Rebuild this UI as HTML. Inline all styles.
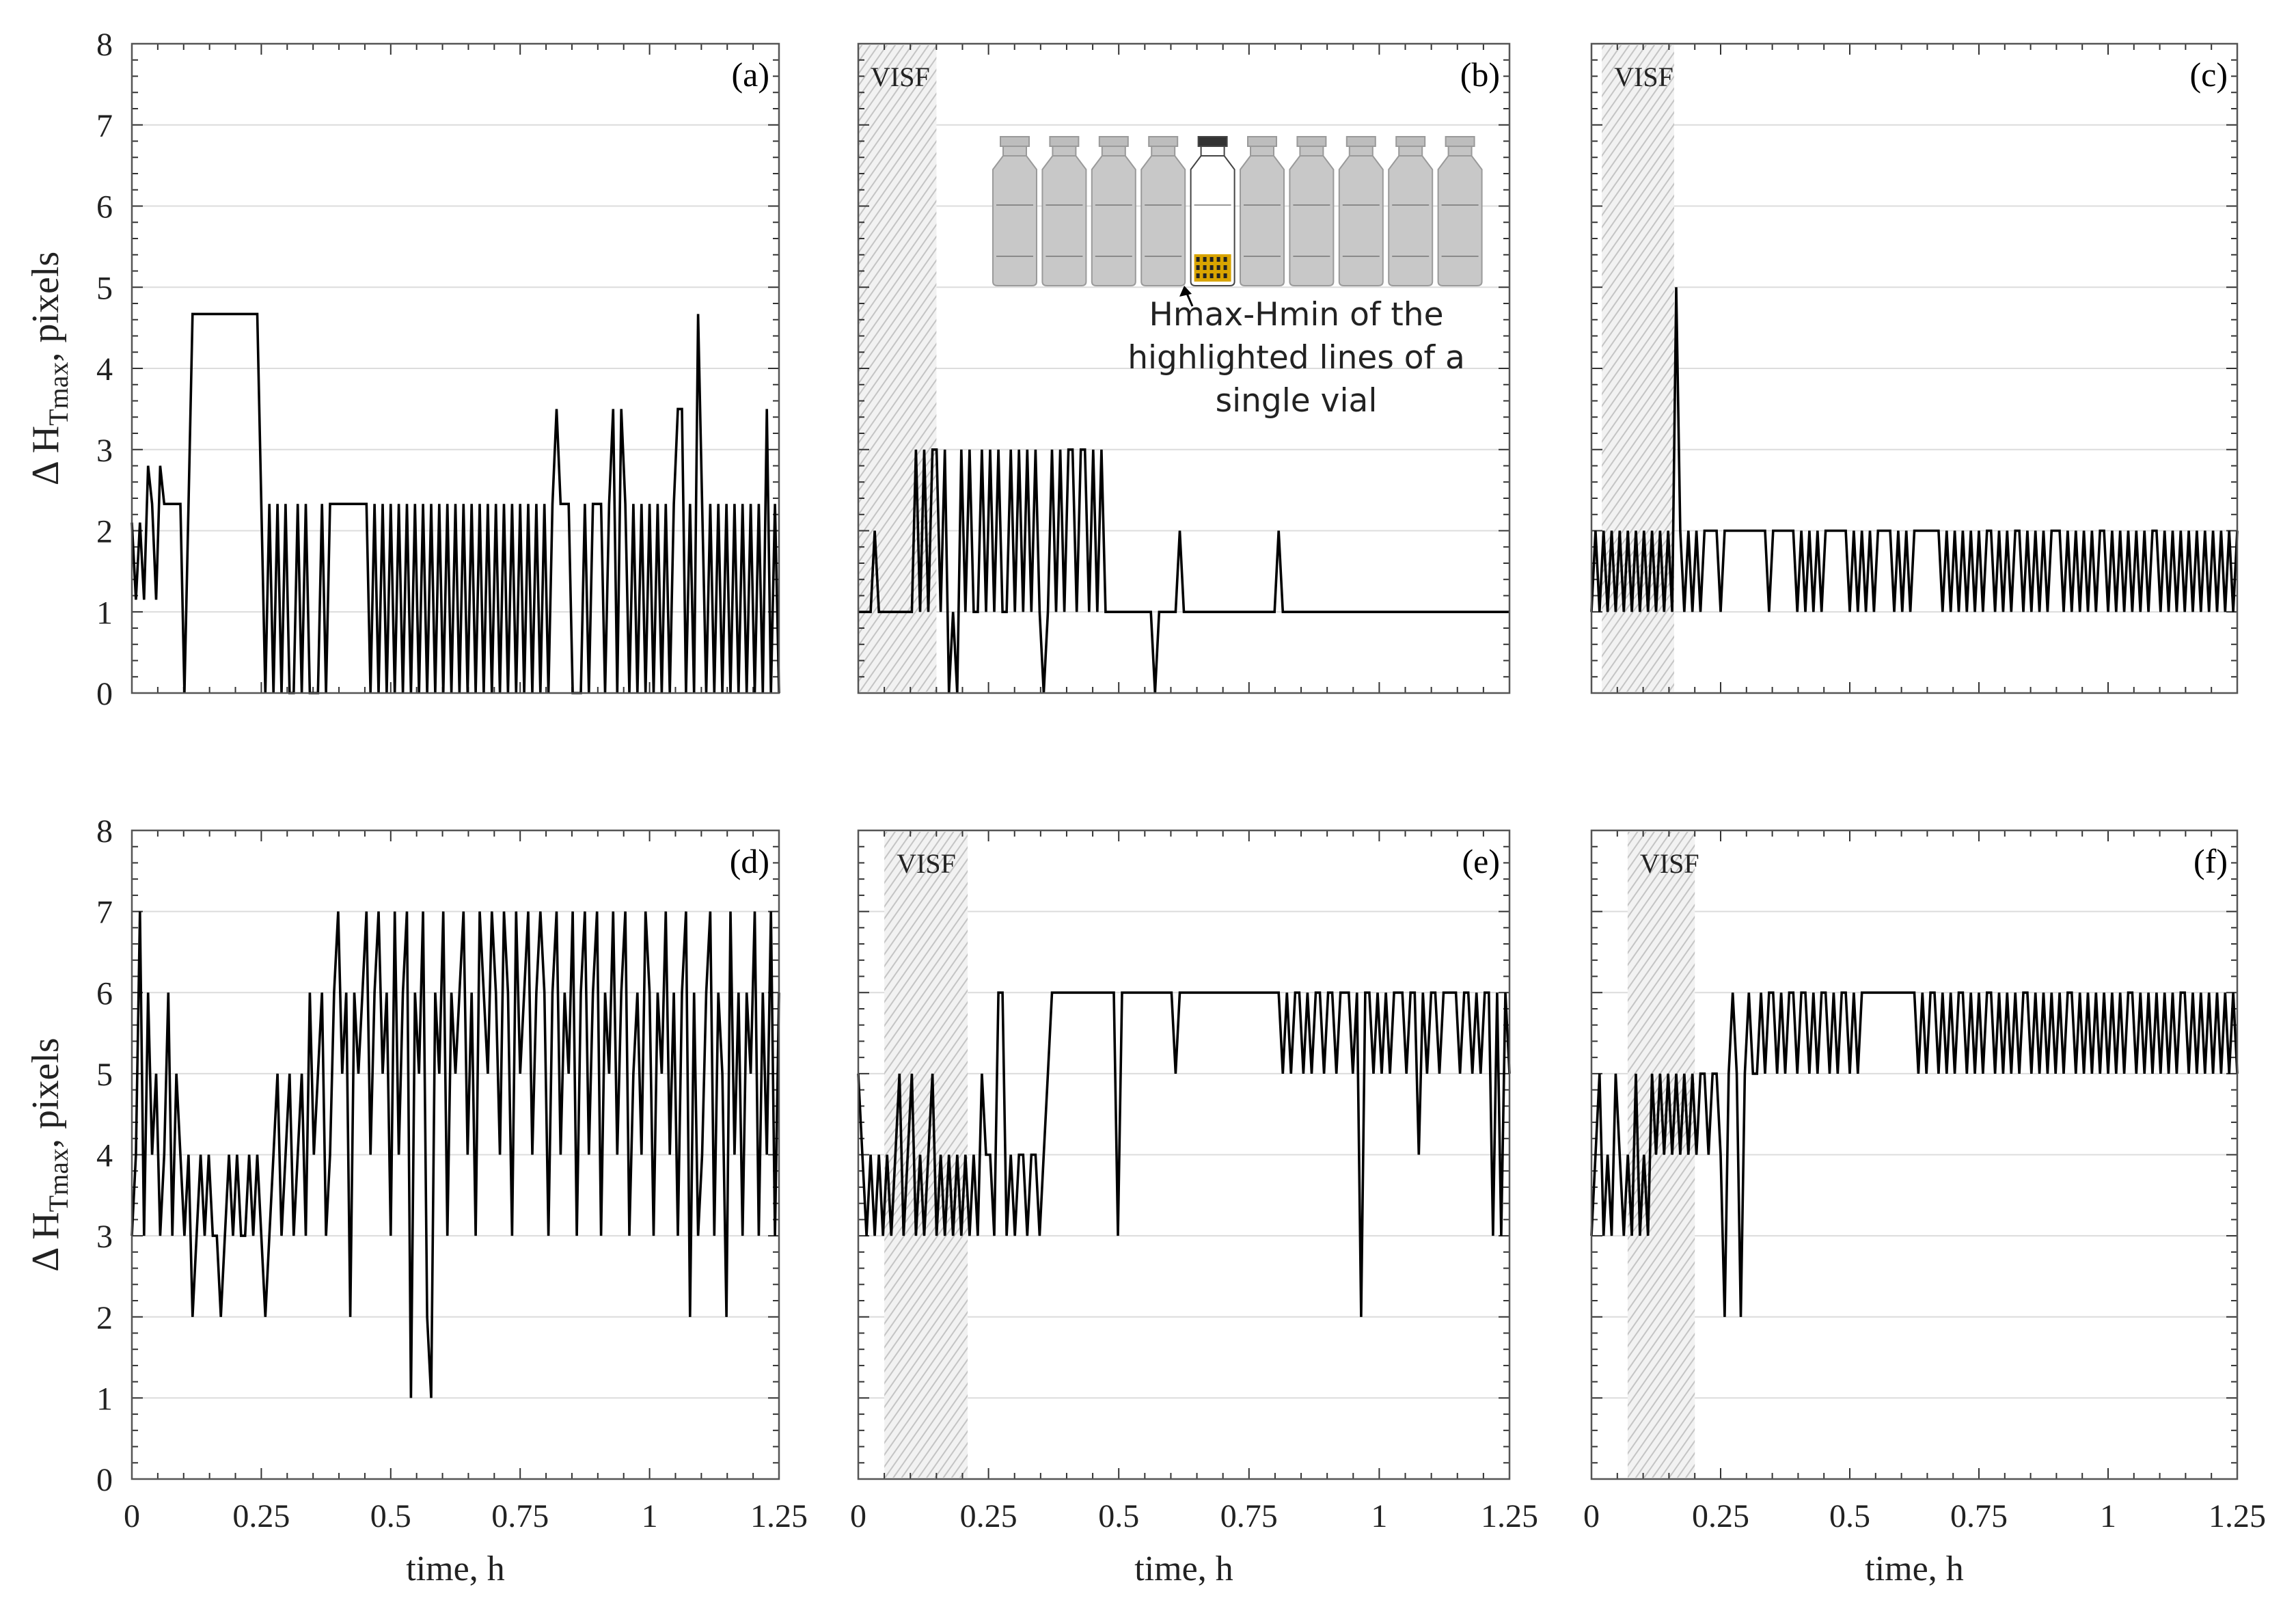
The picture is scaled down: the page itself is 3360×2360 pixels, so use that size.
<!DOCTYPE html>
<html><head><meta charset="utf-8"><style>
html,body{margin:0;padding:0;background:#fff;}
svg{display:block;font-family:"Liberation Serif",serif;}
</style></head><body>
<svg id="fig" width="3360" height="2360" viewBox="0 0 3360 2360" xmlns="http://www.w3.org/2000/svg">
<defs>
<pattern id="hatch" patternUnits="userSpaceOnUse" width="10" height="10" patternTransform="rotate(35)">
<rect width="10" height="10" fill="#f2f2f2"/>
<line x1="0" y1="0" x2="0" y2="10" stroke="#c4c4c4" stroke-width="4"/>
</pattern>
</defs>
</svg>
<script>
const xTicks=[0,0.25,0.5,0.75,1,1.25];
const xTickLabels=["0","0.25","0.5","0.75","1","1.25"];
const yTicks=[0,1,2,3,4,5,6,7,8];
const panelLabels=["(a)","(b)","(c)","(d)","(e)","(f)"];
const visfA=null;
const visfB=[0,0.15];
const visfC=[0.02,0.16];
const visfD=null;
const visfE=[0.05,0.21];
const visfF=[0.07,0.2];
const valsA=[2.1,1.15,2.1,1.15,2.8,2.33,1.15,2.8,2.33,2.33,2.33,2.33,2.33,0,2.33,
4.67,4.67,4.67,4.67,4.67,4.67,4.67,4.67,4.67,4.67,4.67,4.67,4.67,4.67,4.67,4.67,4.67,2.33,0,
2.33,0,2.33,0,2.33,0,0,2.33,0,2.33,0,0,0,2.33,0,2.33,2.33,
2.33,2.33,2.33,2.33,2.33,2.33,2.33,2.33,
0,2.33,0,2.33,0,2.33,0,2.33,0,2.33,0,2.33,0,2.33,0,2.33,0,2.33,0,2.33,0,2.33,
0,2.33,0,2.33,0,2.33,0,2.33,0,2.33,0,2.33,0,2.33,0,2.33,0,2.33,0,2.33,0,2.33,0,2.33,
3.5,2.33,2.33,2.33,0,0,0,2.33,0,2.33,2.33,2.33,0,2.33,3.5,0,3.5,
2.33,0,2.33,0,2.33,0,2.33,0,2.33,0,2.33,0,2.33,3.5,3.5,0,2.33,0,4.67,2.33,
0,2.33,0,2.33,0,2.33,0,2.33,0,2.33,0,2.33,0,2.33,0,3.5,0,2.33,0];
const valsB=[1,1,1,1,2,1,1,1,1,1,1,1,1,1,3,1,3,1,3,3,1,3,0,1,0,3,1,3,1,1,3,1,3,1,3,1,1,3,1,3,1,3,1,3,1,0,1,3,1,3,1,3,3,1,3,3,1,3,1,3,1,1,1,1,1,
1,1,1,1,1,1,1,0,1,1,1,1,1,2,1,1,1,1,1,1,1,1,1,1,1,1,1,1,1,1,1,1,1,1,1,1,1,2,1,1,1,1,1,1,1,1,1,1,1,1,1,1,1,1,1,1,1,1,1,1,1,1,1,1,1,1,1,1,1,1,1,1,1,1,1,1,1,1,1,1,1,1,1,1,1,1,1,1,1,1,1,1,1,1];
const valsC=[1,2,1,2,1,2,1,2,1,2,1,2,1,2,1,2,1,2,1,2,1,5,2,1,2,1,2,1,2,2,2,2,1,2,2,2,2,2,2,2,2,2,2,2,1,2,2,2,2,2,2,1,2,1,2,1,2,1,2,2,2,2,2,2,1,2,1,2,1,2,1,2,2,2,2,1,2,1,2,1,2,2,2,2,2,2,2,1,2,1,2,1,2,1,2,1,2,1,2,2,1,
2,1,2,1,2,2,1,2,1,2,1,2,1,2,2,2,1,2,1,2,1,2,1,2,1,2,2,1,2,1,2,1,2,1,2,1,2,1,2,2,1,2,1,2,1,2,1,2,1,2,1,2,1,2,1,2,1,2,1,2];
const valsD=[3,4,7,3,6,4,5,3,4,6,3,5,4,3,4,2,3,4,3,4,3,
3,2,3,4,3,4,3,3,4,3,4,3,2,3,4,5,3,4,5,3,
4,5,3,6,4,5,6,3,4,6,7,5,6,2,6,5,6,7,4,6,
7,5,6,3,7,4,6,7,1,6,5,7,2,1,6,5,7,3,6,5,
6,7,4,6,3,7,6,5,7,6,4,7,6,3,7,5,6,7,4,6,
7,6,3,6,7,4,6,5,7,3,6,7,4,6,7,3,6,5,7,4,
6,7,3,5,6,4,7,6,3,6,5,7,4,6,3,6,7,2,6,3,
4,6,7,3,6,5,2,7,4,6,3,6,5,7,3,6,4,7,3,6];
const valsE=[5,4,3,4,3,4,3,4,3,4,5,3,4,5,3,4,3,4,5,3,4,3,4,3,4,3,4,3,4,3,5,
4,4,3,6,6,3,4,3,4,4,3,4,4,3,4,5,
6,6,6,6,6,6,6,6,6,6,6,6,6,6,6,6,3,6,6,6,6,6,6,6,6,6,6,6,6,6,5,6,6,6,6,6,6,6,6,6,6,6,6,6,6,6,6,6,6,6,6,6,6,6,6,6,
5,6,5,6,6,5,6,5,6,6,5,6,6,5,6,6,6,5,6,2,6,6,5,6,5,6,5,6,6,6,5,6,6,4,6,5,6,6,5,6,6,6,6,5,6,6,5,6,5,6,6,3,6,3,6,5];
const valsF=[3,4,5,3,4,3,5,4,3,4,3,5,3,4,3,5,4,5,4,5,4,
5,4,5,4,5,4,5,5,4,5,5,4,2,5,6,5,2,5,6,5,
5,6,5,6,6,5,6,5,6,6,5,6,6,5,6,5,6,6,5,6,5,6,6,5,6,5,6,6,6,6,6,6,6,6,6,6,6,6,6,6,
5,6,5,6,6,5,6,5,6,5,6,6,5,6,5,6,5,6,6,5,6,5,6,5,6,5,6,6,5,6,5,6,5,6,5,6,5,6,6,5,
6,5,6,5,6,5,6,5,6,5,6,5,6,6,5,6,5,6,5,6,5,6,5,6,5,6,6,5,6,5,6,5,6,5,6,5,6,5,6,5];

const NS="http://www.w3.org/2000/svg";
const svg=document.getElementById('fig');
function mk(tag,attrs,parent){const e=document.createElementNS(NS,tag);for(const k in attrs)e.setAttribute(k,attrs[k]);(parent||svg).appendChild(e);return e;}
const colsX=[[193,1140],[1256,2209],[2329,3274]];
const rowsY=[[64,1014],[1215,2164]];
const panels=[
 {v:valsA,visf:visfA,c:0,r:0},{v:valsB,visf:visfB,c:1,r:0},{v:valsC,visf:visfC,c:2,r:0},
 {v:valsD,visf:visfD,c:0,r:1},{v:valsE,visf:visfE,c:1,r:1},{v:valsF,visf:visfF,c:2,r:1}];
panels.forEach((p,i)=>{
 const [x0,x1]=colsX[p.c],[y0,y1]=rowsY[p.r];
 const sx=t=>x0+(x1-x0)*t/1.25, sy=v=>y1-(y1-y0)*v/8;
 const g=mk('g',{});
 
 
 yTicks.forEach(v=>{if(v>0&&v<8){const l=mk('line',{x1:x0,x2:x1,y1:sy(v),y2:sy(v),stroke:'#dcdcdc','stroke-width':2},g);
  }});
 if(p.visf){const r=mk('rect',{x:sx(p.visf[0]),y:y0+2,width:sx(p.visf[1])-sx(p.visf[0]),height:y1-y0-4,fill:'url(#hatch)'},g);
  
  const t=mk('text',{x:sx(p.visf[0])+18,y:y0+62,'font-size':40,fill:'#222'},g);t.textContent='VISF';
  }
 for(let k=0;k<=25;k++){const x=sx(k*0.05),len=(k%5==0)?16:9;
  mk('line',{x1:x,x2:x,y1:y1,y2:y1-len,stroke:'#333','stroke-width':2},g);
  mk('line',{x1:x,x2:x,y1:y0,y2:y0+len,stroke:'#333','stroke-width':2},g);}
 for(let k=0;k<=40;k++){const y=sy(k*0.2),len=(k%5==0)?16:9;
  mk('line',{x1:x0,x2:x0+len,y1:y,y2:y,stroke:'#333','stroke-width':2},g);
  mk('line',{x1:x1,x2:x1-len,y1:y,y2:y,stroke:'#333','stroke-width':2},g);}
 const n=p.v.length;
 const pts=p.v.map((v,j)=>sx(j*1.25/(n-1)).toFixed(1)+','+sy(v).toFixed(1)).join(' ');
 const pl=mk('polyline',{points:pts,fill:'none',stroke:'#000','stroke-width':3.6,'stroke-linejoin':'miter'},g);
 
 const fr=mk('rect',{x:x0,y:y0,width:x1-x0,height:y1-y0,fill:'none',stroke:'#555','stroke-width':2.5},g);
 
 const pt=mk('text',{x:x1-14,y:y0+62,'font-size':50,'text-anchor':'end'},g);pt.textContent=panelLabels[i];
 
 if(p.c==0){yTicks.forEach(v=>{const t=mk('text',{x:x0-28,y:sy(v)+17,'font-size':48,'text-anchor':'end',fill:'#222'},g);t.textContent=v;
  });
  const yl=mk('text',{transform:`translate(${x0-108},${(y0+y1)/2}) rotate(-90)`,'font-size':56,'text-anchor':'middle',fill:'#222'},g);
  yl.innerHTML='Δ H<tspan font-size="40" dy="14">Tmax</tspan><tspan dy="-14">, pixels</tspan>';
  }
 if(p.r==1){xTicks.forEach((t,j)=>{const e=mk('text',{x:sx(t),y:y1+70,'font-size':48,'text-anchor':'middle',fill:'#222'},g);e.textContent=xTickLabels[j];
  });
  const xl=mk('text',{x:(x0+x1)/2,y:y1+148,'font-size':52,'text-anchor':'middle',fill:'#222'},g);xl.textContent='time, h';
  }
});
const ins=mk('g',{});


for(let k=0;k<10;k++){
 const x=1450+k*72.4, hl=(k==4);
 const body=hl?'#fff':'#c8c8c8', st=hl?'#444':'#9a9a9a';
 mk('rect',{x:x+14,y:200,width:42,height:14,fill:hl?'#333':'#bdbdbd',stroke:st,'stroke-width':2},ins);
 mk('rect',{x:x+18,y:214,width:34,height:14,fill:hl?'#fff':'#c4c4c4',stroke:st,'stroke-width':2},ins);
 mk('path',{d:`M${x+18},228 L${x+3},248 L${x+3},412 Q${x+3},418 ${x+10},418 L${x+60},418 Q${x+67},418 ${x+67},412 L${x+67},248 L${x+52},228 Z`,fill:body,stroke:st,'stroke-width':2},ins);
 mk('line',{x1:x+8,x2:x+62,y1:300,y2:300,stroke:hl?'#999':'#8a8a8a','stroke-width':2},ins);
 mk('line',{x1:x+8,x2:x+62,y1:375,y2:375,stroke:hl?'#999':'#8a8a8a','stroke-width':2},ins);
 if(hl){mk('rect',{x:x+8,y:372,width:54,height:40,fill:'#d9a400'},ins);
  for(let a=0;a<5;a++)for(let b=0;b<3;b++)mk('rect',{x:x+11+a*10,y:376+b*12,width:5,height:7,fill:'#222'},ins);}
}
mk('line',{x1:1745,y1:448,x2:1735,y2:425,stroke:'#000','stroke-width':3},ins);
mk('path',{d:'M1733,418 L1726,434 L1744,430 Z',fill:'#000'},ins);
const lines=['Hmax-Hmin of the','highlighted lines of a','single vial'];
lines.forEach((s,k)=>{const t=mk('text',{x:1897,y:476+k*63,'font-size':47,'text-anchor':'middle','font-family':'DejaVu Sans, sans-serif',fill:'#222'},ins);t.textContent=s;
 });
</script>
</body></html>
